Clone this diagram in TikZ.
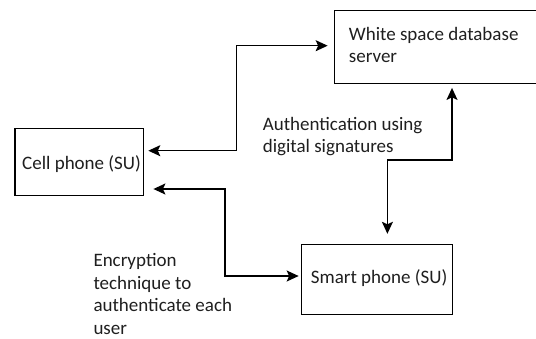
\documentclass[tikz,border=0pt]{standalone}
\usepackage{fontspec}
\setmainfont{Carlito}
\usetikzlibrary{arrows.meta}
\tikzset{
  box/.style={draw=black, line width=1.1bp, inner sep=0pt, minimum width=#1},
  lbl/.style={anchor=base west, inner sep=0pt, align=left, text=black!88,
    font=\fontsize{19bp}{22.6bp}\selectfont},
  tip/.style={Stealth[length=12bp,width=11bp,inset=2.5bp]},
  link/.style={line width=1.5bp, {Stealth[length=12bp,width=11bp,inset=2.5bp]}-{Stealth[length=12bp,width=11bp,inset=2.5bp]}},
}
\begin{document}
\begin{tikzpicture}[x=1bp,y=-1bp]
  \useasboundingbox (0,0) rectangle (536,338);
  \clip (0,0) rectangle (536,338);
  \fill[white] (0,0) rectangle (536,338);

  % boxes
  \node[box=128.3bp, minimum height=67.4bp] (cell) at (79.2,162) {};
  \node[box=210.6bp, minimum height=73.3bp] (server) at (439.7,46.7) {};
  \node[box=150.6bp, minimum height=69.7bp] (smart) at (377,279.2) {};

  % box texts (multi-line nodes sit on the baseline of their last line)
  \node[lbl] (celltext) at (22,169.3) {Cell phone (SU)};
  \node[lbl] (servertext) at (348.7,62.6) {White space database\\server};
  \node[lbl] (smarttext) at (310.7,283.3) {Smart phone (SU)};

  % link captions
  \node[lbl] (authtext) at (262.6,152.6) {Authentication using\\digital signatures};
  \node[lbl] (enctext) at (93.3,334.5) {Encryption\\technique to\\authenticate each\\user};

  % connectors
  \draw[link] ([shift={(4.4,-11.3)}]cell.east) -- ++(88.3,0)
    |- ([shift={(-6.2,-1)}]server.west);
  \draw[link] ([shift={(9.5,27)}]cell.east) -- ++(71.5,0)
    |- ([shift={(-2.5,-3.2)}]smart.west);
  \draw[link] ([shift={(12.3,4)}]server.south) -- ++(0,72)
    -| ([shift={(10.4,-10)}]smart.north);
\end{tikzpicture}
\end{document}
